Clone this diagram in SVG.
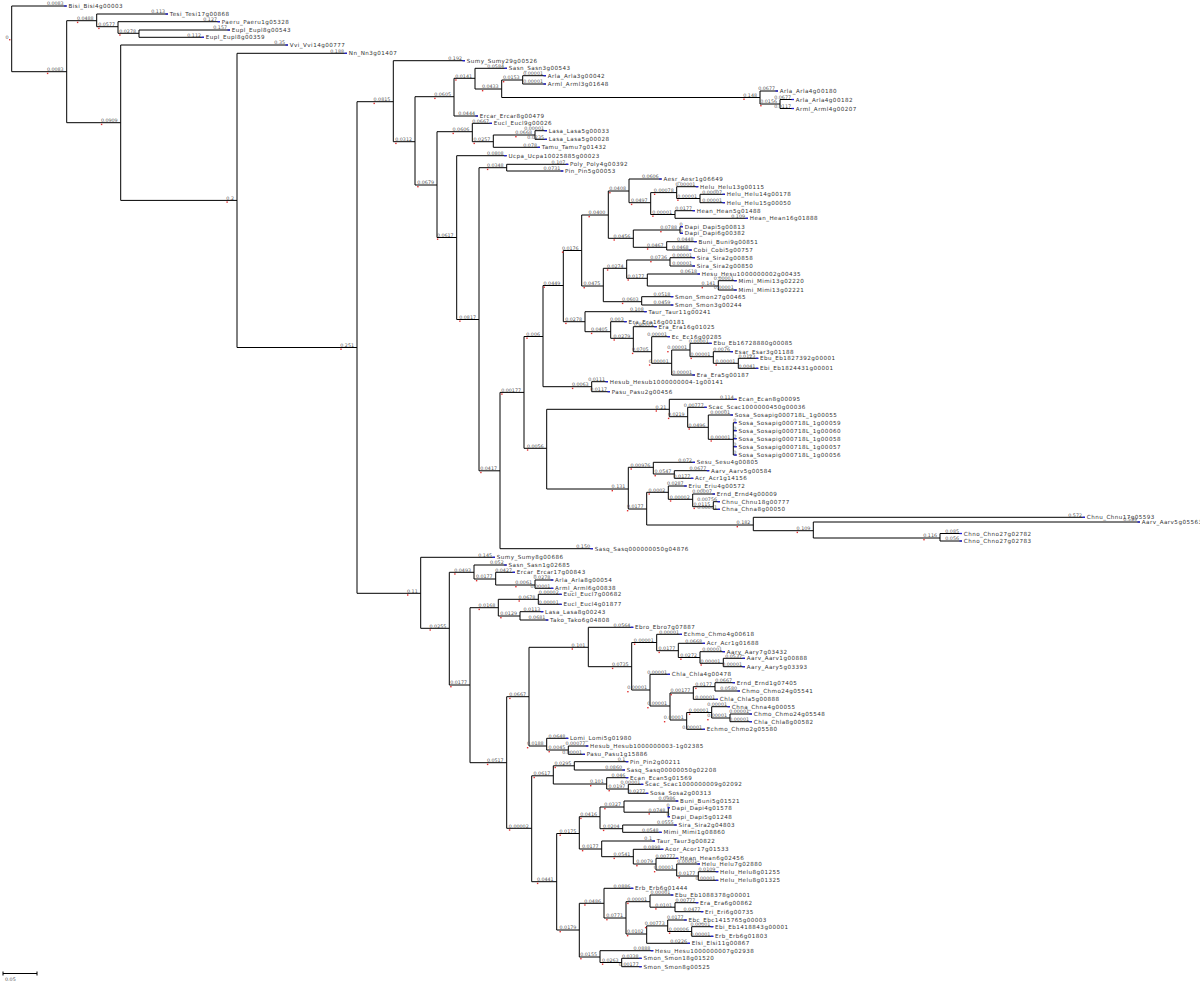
<svg xmlns="http://www.w3.org/2000/svg" width="1200" height="984" viewBox="0 0 1200 984">
<style>
.e{fill:none;stroke:#000;stroke-width:1}
.bl{font-family:'DejaVu Sans',sans-serif;font-size:4.8px;fill:#555;text-anchor:end}
.ln{font-family:'DejaVu Sans',sans-serif;font-size:5.6px;letter-spacing:0.45px;fill:#333}
.bm{stroke:#2222dd;stroke-width:1.3;fill:none}
.rd{fill:#e03030}
</style>
<rect width="1200" height="984" fill="#fff"/>
<g id="connectors" class="e">
<path d="M66.7 6H11.7V71.7H66.7"/>
<path d="M96.7 20.7H66.7V122.7H120.7"/>
<path d="M168 14H96.7V26.7H118"/>
<path d="M220 21.7H118V33.3H139"/>
<path d="M230 30H139V37.3H204"/>
<path d="M288 45H120.7V200.4H237"/>
<path d="M347 53.3H237V347.5H357"/>
<path d="M393.3 101.7H357V593.3H420.7"/>
<path d="M465 60.7H393.3V141.7H415"/>
<path d="M454 96.7H415V185H437"/>
<path d="M475 78.3H454V116H478"/>
<path d="M507 68.3H475V89H501.7"/>
<path d="M522.7 80H501.7V97.5H760"/>
<path d="M546 75.7H522.7V84H546"/>
<path d="M778 91H760V104H780"/>
<path d="M794 99.5H780V108.5H794"/>
<path d="M472.3 131.7H437V237.5H456.7"/>
<path d="M492 123.3H472.3V141.7H493.3"/>
<path d="M535 135H493.3V147.3H540"/>
<path d="M547 130.7H535V139.3H547"/>
<path d="M506.7 155.7H456.7V319.5H479"/>
<path d="M506.7 167.7H479V470.8H500"/>
<path d="M568.3 164.3H506.7V171H563.3"/>
<path d="M524 392.4H500V548.7H593"/>
<path d="M543 336.5H524V448.3H546.7"/>
<path d="M563.3 285.5H543V386.7H591.7"/>
<path d="M581.7 250.5H563.3V321.7H585"/>
<path d="M608.3 215H581.7V286H603.3"/>
<path d="M629 191H608.3V238.3H633.3"/>
<path d="M661.7 179H629V202.7H650.7"/>
<path d="M676.7 192.6H650.7V214.5H675"/>
<path d="M698.3 186.7H676.7V198.5H700"/>
<path d="M725 194.3H700V202.7H725"/>
<path d="M695 210.7H675V218.3H748"/>
<path d="M680 230H633.3V247.3H666.7"/>
<path d="M683 226.7H680V233.3H683"/>
<path d="M696.7 241.7H666.7V250H691.7"/>
<path d="M626.7 268.3H603.3V301.7H641.7"/>
<path d="M670 260H626.7V278.3H647.3"/>
<path d="M695 257.7H670V266H695"/>
<path d="M700 274H647.3V286H718.3"/>
<path d="M736.7 280.7H718.3V290H736.7"/>
<path d="M673.3 296.7H641.7V305H673.3"/>
<path d="M646.7 311.7H585V331.7H610.7"/>
<path d="M626.7 321.7H610.7V338.3H633.3"/>
<path d="M656.7 326.7H633.3V351.7H651.7"/>
<path d="M670 336.7H651.7V363.3H671.7"/>
<path d="M690 350H671.7V375H695"/>
<path d="M711.7 343.3H690V356.7H713.3"/>
<path d="M733 351.7H713.3V363.3H738.3"/>
<path d="M758.3 358.3H738.3V368.3H758.3"/>
<path d="M608 381.7H591.7V391.7H610"/>
<path d="M669.3 409.3H546.7V489H628.3"/>
<path d="M736.7 399.3H669.3V416.7H687.7"/>
<path d="M706.7 407.3H687.7V427.3H708.3"/>
<path d="M733 415H708.3V439.3H733.3"/>
<path d="M733.3 422.7V455M733.3 422.7H736.7M733.3 430.7H736.7M733.3 438.7H736.7M733.3 446.7H736.7M733.3 455H736.7"/>
<path d="M653.3 467.3H628.3V509H646.7"/>
<path d="M695 462.3H653.3V474H674.3"/>
<path d="M709.3 470.7H674.3V478.3H693.3"/>
<path d="M668.3 492.3H646.7V525H753.3"/>
<path d="M686.7 486H668.3V499.3H692.7"/>
<path d="M715 494H692.7V506.7H713.3"/>
<path d="M720 501.7H713.3V509.3H720"/>
<path d="M1085 517.3H753.3V530.7H813.3"/>
<path d="M1140 522H813.3V538H940"/>
<path d="M962 533.5H940V541H962"/>
<path d="M495 557.3H420.7V628.3H449.3"/>
<path d="M474 572.3H449.3V685H470"/>
<path d="M506.7 565H474V579H495.7"/>
<path d="M515 572.3H495.7V585H535"/>
<path d="M553.3 580H535V588.3H553.3"/>
<path d="M498.3 607.7H470V762.7H506.7"/>
<path d="M538.3 599.3H498.3V616H520"/>
<path d="M561.7 594.3H538.3V604.3H561.7"/>
<path d="M543.3 611.7H520V620H548.3"/>
<path d="M529 696.7H506.7V828.3H531.7"/>
<path d="M588.3 647.3H529V746H546.7"/>
<path d="M633.3 627.3H588.3V666.7H631.7"/>
<path d="M656.7 642.5H631.7V690H650"/>
<path d="M682 634.3H656.7V650.7H678.3"/>
<path d="M705 643.3H678.3V657.5H700"/>
<path d="M725 651.7H700V663.3H723.3"/>
<path d="M745 658.3H723.3V666.7H745"/>
<path d="M670 674.3H650V706H670"/>
<path d="M693.3 693H670V720H686.7"/>
<path d="M715 686.7H693.3V699.3H718"/>
<path d="M735 682.7H715V691H740"/>
<path d="M711.7 712.5H686.7V729.3H705"/>
<path d="M730 706.7H711.7V718H730"/>
<path d="M752 714H730V721.7H752"/>
<path d="M568.3 738.3H546.7V750H568.3"/>
<path d="M588.3 746H568.3V754.3H585"/>
<path d="M553.3 775.8H531.7V881.7H556.7"/>
<path d="M574.3 765.8H553.3V784H606.7"/>
<path d="M628.3 761.7H574.3V770H625"/>
<path d="M628.3 777.7H606.7V789H628.3"/>
<path d="M643.3 784.3H628.3V793.3H648.3"/>
<path d="M579.3 833.5H556.7V930H579.3"/>
<path d="M600 816.7H579.3V849H601.7"/>
<path d="M624 807H600V828.7H622.7"/>
<path d="M678.3 801H624V812.2H668.3"/>
<path d="M670 807.7H668.3V816.7H670"/>
<path d="M676.7 825H622.7V832.3H661.7"/>
<path d="M655 841H601.7V856.7H633.3"/>
<path d="M663.3 849.3H633.3V864H656"/>
<path d="M678.3 858.3H656V870H676.7"/>
<path d="M700 864H676.7V876H698.3"/>
<path d="M718.3 871.7H698.3V880.3H718.3"/>
<path d="M604 903.3H579.3V957H600"/>
<path d="M633.3 888.3H604V918H626"/>
<path d="M650 901.7H626V934H646.7"/>
<path d="M673.3 895H650V907.2H675"/>
<path d="M698.3 902.7H675V911.7H703.3"/>
<path d="M667.7 925.9H646.7V943.3H690"/>
<path d="M686.7 920H667.7V931.5H691.7"/>
<path d="M713.3 926.7H691.7V936.3H713.3"/>
<path d="M653.3 950.7H600V962.5H621.7"/>
<path d="M641.7 958.3H621.7V966.7H641.7"/>
</g>
<g id="internal-nodes">
<g id="root"><text class="bl" x="8.5" y="39">0</text><rect class="rd" x="9" y="39" width="1.4" height="1.4"/></g>
<g id="n1"><text class="bl" x="63.7" y="71">0.0083</text><rect class="rd" x="46.9" y="72.7" width="1.4" height="1.4"/></g>
<g id="n2"><text class="bl" x="93.7" y="20">0.0488</text><rect class="rd" x="76.9" y="21.7" width="1.4" height="1.4"/></g>
<g id="n3"><text class="bl" x="115" y="26">0.0577</text><rect class="rd" x="98.2" y="27.7" width="1.4" height="1.4"/></g>
<g id="n4"><text class="bl" x="136" y="32.6">0.0278</text><rect class="rd" x="119.2" y="34.3" width="1.4" height="1.4"/></g>
<g id="n5"><text class="bl" x="117.7" y="122">0.0909</text><rect class="rd" x="100.9" y="123.7" width="1.4" height="1.4"/></g>
<g id="n6"><text class="bl" x="234" y="199.7">0.2</text><rect class="rd" x="226.4" y="201.4" width="1.4" height="1.4"/></g>
<g id="n7"><text class="bl" x="354" y="346.8">0.251</text><rect class="rd" x="340.3" y="348.5" width="1.4" height="1.4"/></g>
<g id="n8"><text class="bl" x="390.3" y="101">0.0815</text><rect class="rd" x="373.5" y="102.7" width="1.4" height="1.4"/></g>
<g id="n9"><text class="bl" x="417.7" y="592.6">0.11</text><rect class="rd" x="407" y="594.3" width="1.4" height="1.4"/></g>
<g id="n10"><text class="bl" x="412" y="141">0.0312</text><rect class="rd" x="395.2" y="142.7" width="1.4" height="1.4"/></g>
<g id="n11"><text class="bl" x="451" y="96">0.0605</text><rect class="rd" x="434.2" y="97.7" width="1.4" height="1.4"/></g>
<g id="n12"><text class="bl" x="434" y="184.3">0.0679</text><rect class="rd" x="417.2" y="186" width="1.4" height="1.4"/></g>
<g id="n13"><text class="bl" x="472" y="77.6">0.0141</text><rect class="rd" x="455.2" y="79.3" width="1.4" height="1.4"/></g>
<g id="n14"><text class="bl" x="498.7" y="88.3">0.0433</text><rect class="rd" x="481.9" y="90" width="1.4" height="1.4"/></g>
<g id="n15"><text class="bl" x="519.7" y="79.3">0.0153</text><rect class="rd" x="502.9" y="81" width="1.4" height="1.4"/></g>
<g id="n16"><text class="bl" x="757" y="96.8">0.148</text><rect class="rd" x="743.3" y="98.5" width="1.4" height="1.4"/></g>
<g id="n17"><text class="bl" x="777" y="103.3">0.0156</text><rect class="rd" x="760.2" y="105" width="1.4" height="1.4"/></g>
<g id="n18"><text class="bl" x="469.3" y="131">0.0606</text><rect class="rd" x="452.5" y="132.7" width="1.4" height="1.4"/></g>
<g id="n19"><text class="bl" x="453.7" y="236.8">0.0617</text><rect class="rd" x="436.9" y="238.5" width="1.4" height="1.4"/></g>
<g id="n20"><text class="bl" x="490.3" y="141">0.0257</text><rect class="rd" x="473.5" y="142.7" width="1.4" height="1.4"/></g>
<g id="n21"><text class="bl" x="532" y="134.3">0.0668</text><rect class="rd" x="515.2" y="136" width="1.4" height="1.4"/></g>
<g id="n22"><text class="bl" x="476" y="318.8">0.0817</text><rect class="rd" x="459.2" y="320.5" width="1.4" height="1.4"/></g>
<g id="n23"><text class="bl" x="503.7" y="167">0.0348</text><rect class="rd" x="486.9" y="168.7" width="1.4" height="1.4"/></g>
<g id="n24"><text class="bl" x="497" y="470.1">0.0417</text><rect class="rd" x="480.2" y="471.8" width="1.4" height="1.4"/></g>
<g id="n25"><text class="bl" x="521" y="391.7">0.00177</text><rect class="rd" x="501.2" y="393.4" width="1.4" height="1.4"/></g>
<g id="n26"><text class="bl" x="540" y="335.8">0.006</text><rect class="rd" x="526.3" y="337.5" width="1.4" height="1.4"/></g>
<g id="n27"><text class="bl" x="543.7" y="447.6">0.0056</text><rect class="rd" x="526.9" y="449.3" width="1.4" height="1.4"/></g>
<g id="n28"><text class="bl" x="560.3" y="284.8">0.0449</text><rect class="rd" x="543.5" y="286.5" width="1.4" height="1.4"/></g>
<g id="n29"><text class="bl" x="588.7" y="386">0.0063</text><rect class="rd" x="571.9" y="387.7" width="1.4" height="1.4"/></g>
<g id="n30"><text class="bl" x="578.7" y="249.8">0.0176</text><rect class="rd" x="561.9" y="251.5" width="1.4" height="1.4"/></g>
<g id="n31"><text class="bl" x="582" y="321">0.0278</text><rect class="rd" x="565.2" y="322.7" width="1.4" height="1.4"/></g>
<g id="n32"><text class="bl" x="605.3" y="214.3">0.0400</text><rect class="rd" x="588.5" y="216" width="1.4" height="1.4"/></g>
<g id="n33"><text class="bl" x="600.3" y="285.3">0.0475</text><rect class="rd" x="583.5" y="287" width="1.4" height="1.4"/></g>
<g id="n34"><text class="bl" x="626" y="190.3">0.0408</text><rect class="rd" x="609.2" y="192" width="1.4" height="1.4"/></g>
<g id="n35"><text class="bl" x="630.3" y="237.6">0.0456</text><rect class="rd" x="613.5" y="239.3" width="1.4" height="1.4"/></g>
<g id="n36"><text class="bl" x="647.7" y="202">0.0497</text><rect class="rd" x="630.9" y="203.7" width="1.4" height="1.4"/></g>
<g id="n37"><text class="bl" x="673.7" y="191.9">0.00078</text><rect class="rd" x="653.9" y="193.6" width="1.4" height="1.4"/></g>
<g id="n38"><text class="bl" x="697" y="197.8">0.00001</text><rect class="rd" x="677.2" y="199.5" width="1.4" height="1.4"/></g>
<g id="n39"><text class="bl" x="672" y="213.8">0.00001</text><rect class="rd" x="652.2" y="215.5" width="1.4" height="1.4"/></g>
<g id="n40"><text class="bl" x="677" y="229.3">0.0788</text><rect class="rd" x="660.2" y="231" width="1.4" height="1.4"/></g>
<g id="n41"><text class="bl" x="663.7" y="246.6">0.0467</text><rect class="rd" x="646.9" y="248.3" width="1.4" height="1.4"/></g>
<g id="n42"><text class="bl" x="623.7" y="267.6">0.0274</text><rect class="rd" x="606.9" y="269.3" width="1.4" height="1.4"/></g>
<g id="n43"><text class="bl" x="638.7" y="301">0.0603</text><rect class="rd" x="621.9" y="302.7" width="1.4" height="1.4"/></g>
<g id="n44"><text class="bl" x="667" y="259.3">0.0736</text><rect class="rd" x="650.2" y="261" width="1.4" height="1.4"/></g>
<g id="n45"><text class="bl" x="644.3" y="277.6">0.0177</text><rect class="rd" x="627.5" y="279.3" width="1.4" height="1.4"/></g>
<g id="n46"><text class="bl" x="715.3" y="285.3">0.141</text><rect class="rd" x="701.6" y="287" width="1.4" height="1.4"/></g>
<g id="n47"><text class="bl" x="607.7" y="331">0.0405</text><rect class="rd" x="590.9" y="332.7" width="1.4" height="1.4"/></g>
<g id="n48"><text class="bl" x="630.3" y="337.6">0.0279</text><rect class="rd" x="613.5" y="339.3" width="1.4" height="1.4"/></g>
<g id="n49"><text class="bl" x="648.7" y="351">0.0705</text><rect class="rd" x="631.9" y="352.7" width="1.4" height="1.4"/></g>
<g id="n50"><text class="bl" x="668.7" y="362.6">0.00001</text><rect class="rd" x="648.9" y="364.3" width="1.4" height="1.4"/></g>
<g id="n51"><text class="bl" x="687" y="349.3">0.00001</text><rect class="rd" x="667.2" y="351" width="1.4" height="1.4"/></g>
<g id="n52"><text class="bl" x="710.3" y="356">0.00001</text><rect class="rd" x="690.5" y="357.7" width="1.4" height="1.4"/></g>
<g id="n53"><text class="bl" x="735.3" y="362.6">0.00001</text><rect class="rd" x="715.5" y="364.3" width="1.4" height="1.4"/></g>
<g id="n54"><text class="bl" x="666.3" y="408.6">0.21</text><rect class="rd" x="655.6" y="410.3" width="1.4" height="1.4"/></g>
<g id="n55"><text class="bl" x="625.3" y="488.3">0.131</text><rect class="rd" x="611.6" y="490" width="1.4" height="1.4"/></g>
<g id="n56"><text class="bl" x="684.7" y="416">0.0219</text><rect class="rd" x="667.9" y="417.7" width="1.4" height="1.4"/></g>
<g id="n57"><text class="bl" x="705.3" y="426.6">0.0496</text><rect class="rd" x="688.5" y="428.3" width="1.4" height="1.4"/></g>
<g id="n58"><text class="bl" x="730.3" y="438.6">0.00001</text><rect class="rd" x="710.5" y="440.3" width="1.4" height="1.4"/></g>
<g id="n59"><text class="bl" x="650.3" y="466.6">0.00976</text><rect class="rd" x="630.5" y="468.3" width="1.4" height="1.4"/></g>
<g id="n60"><text class="bl" x="643.7" y="508.3">0.0177</text><rect class="rd" x="626.9" y="510" width="1.4" height="1.4"/></g>
<g id="n61"><text class="bl" x="671.3" y="473.3">0.0547</text><rect class="rd" x="654.5" y="475" width="1.4" height="1.4"/></g>
<g id="n62"><text class="bl" x="665.3" y="491.6">0.0002</text><rect class="rd" x="648.5" y="493.3" width="1.4" height="1.4"/></g>
<g id="n63"><text class="bl" x="750.3" y="524.3">0.182</text><rect class="rd" x="736.6" y="526" width="1.4" height="1.4"/></g>
<g id="n64"><text class="bl" x="689.7" y="498.6">0.00002</text><rect class="rd" x="669.9" y="500.3" width="1.4" height="1.4"/></g>
<g id="n65"><text class="bl" x="710.3" y="506">0.0115</text><rect class="rd" x="693.5" y="507.7" width="1.4" height="1.4"/></g>
<g id="n66"><text class="bl" x="810.3" y="530">0.109</text><rect class="rd" x="796.6" y="531.7" width="1.4" height="1.4"/></g>
<g id="n67"><text class="bl" x="937" y="537.3">0.116</text><rect class="rd" x="923.3" y="539" width="1.4" height="1.4"/></g>
<g id="n68"><text class="bl" x="446.3" y="627.6">0.0255</text><rect class="rd" x="429.5" y="629.3" width="1.4" height="1.4"/></g>
<g id="n69"><text class="bl" x="471" y="571.6">0.0493</text><rect class="rd" x="454.2" y="573.3" width="1.4" height="1.4"/></g>
<g id="n70"><text class="bl" x="467" y="684.3">0.0177</text><rect class="rd" x="450.2" y="686" width="1.4" height="1.4"/></g>
<g id="n71"><text class="bl" x="492.7" y="578.3">0.0177</text><rect class="rd" x="475.9" y="580" width="1.4" height="1.4"/></g>
<g id="n72"><text class="bl" x="532" y="584.3">0.0061</text><rect class="rd" x="515.2" y="586" width="1.4" height="1.4"/></g>
<g id="n73"><text class="bl" x="495.3" y="607">0.0168</text><rect class="rd" x="478.5" y="608.7" width="1.4" height="1.4"/></g>
<g id="n74"><text class="bl" x="503.7" y="762">0.0517</text><rect class="rd" x="486.9" y="763.7" width="1.4" height="1.4"/></g>
<g id="n75"><text class="bl" x="535.3" y="598.6">0.0678</text><rect class="rd" x="518.5" y="600.3" width="1.4" height="1.4"/></g>
<g id="n76"><text class="bl" x="517" y="615.3">0.0129</text><rect class="rd" x="500.2" y="617" width="1.4" height="1.4"/></g>
<g id="n77"><text class="bl" x="526" y="696">0.0667</text><rect class="rd" x="509.2" y="697.7" width="1.4" height="1.4"/></g>
<g id="n78"><text class="bl" x="528.7" y="827.6">0.00002</text><rect class="rd" x="508.9" y="829.3" width="1.4" height="1.4"/></g>
<g id="n79"><text class="bl" x="585.3" y="646.6">0.101</text><rect class="rd" x="571.6" y="648.3" width="1.4" height="1.4"/></g>
<g id="n80"><text class="bl" x="543.7" y="745.3">0.0188</text><rect class="rd" x="526.9" y="747" width="1.4" height="1.4"/></g>
<g id="n81"><text class="bl" x="628.7" y="666">0.0735</text><rect class="rd" x="611.9" y="667.7" width="1.4" height="1.4"/></g>
<g id="n82"><text class="bl" x="653.7" y="641.8">0.00001</text><rect class="rd" x="633.9" y="643.5" width="1.4" height="1.4"/></g>
<g id="n83"><text class="bl" x="647" y="689.3">0.00001</text><rect class="rd" x="627.2" y="691" width="1.4" height="1.4"/></g>
<g id="n84"><text class="bl" x="675.3" y="650">0.0177</text><rect class="rd" x="658.5" y="651.7" width="1.4" height="1.4"/></g>
<g id="n85"><text class="bl" x="697" y="656.8">0.0272</text><rect class="rd" x="680.2" y="658.5" width="1.4" height="1.4"/></g>
<g id="n86"><text class="bl" x="720.3" y="662.6">0.00001</text><rect class="rd" x="700.5" y="664.3" width="1.4" height="1.4"/></g>
<g id="n87"><text class="bl" x="667" y="705.3">0.00001</text><rect class="rd" x="647.2" y="707" width="1.4" height="1.4"/></g>
<g id="n88"><text class="bl" x="690.3" y="692.3">0.00177</text><rect class="rd" x="670.5" y="694" width="1.4" height="1.4"/></g>
<g id="n89"><text class="bl" x="683.7" y="719.3">0.00001</text><rect class="rd" x="663.9" y="721" width="1.4" height="1.4"/></g>
<g id="n90"><text class="bl" x="712" y="686">0.0177</text><rect class="rd" x="695.2" y="687.7" width="1.4" height="1.4"/></g>
<g id="n91"><text class="bl" x="708.7" y="711.8">0.00001</text><rect class="rd" x="688.9" y="713.5" width="1.4" height="1.4"/></g>
<g id="n92"><text class="bl" x="727" y="717.3">0.00001</text><rect class="rd" x="707.2" y="719" width="1.4" height="1.4"/></g>
<g id="n93"><text class="bl" x="565.3" y="749.3">0.0045</text><rect class="rd" x="548.5" y="751" width="1.4" height="1.4"/></g>
<g id="n94"><text class="bl" x="550.3" y="775.1">0.0617</text><rect class="rd" x="533.5" y="776.8" width="1.4" height="1.4"/></g>
<g id="n95"><text class="bl" x="553.7" y="881">0.0441</text><rect class="rd" x="536.9" y="882.7" width="1.4" height="1.4"/></g>
<g id="n96"><text class="bl" x="571.3" y="765.1">0.0295</text><rect class="rd" x="554.5" y="766.8" width="1.4" height="1.4"/></g>
<g id="n97"><text class="bl" x="603.7" y="783.3">0.101</text><rect class="rd" x="590" y="785" width="1.4" height="1.4"/></g>
<g id="n98"><text class="bl" x="625.3" y="788.3">0.0197</text><rect class="rd" x="608.5" y="790" width="1.4" height="1.4"/></g>
<g id="n99"><text class="bl" x="576.3" y="832.8">0.0175</text><rect class="rd" x="559.5" y="834.5" width="1.4" height="1.4"/></g>
<g id="n100"><text class="bl" x="576.3" y="929.3">0.0179</text><rect class="rd" x="559.5" y="931" width="1.4" height="1.4"/></g>
<g id="n101"><text class="bl" x="597" y="816">0.0416</text><rect class="rd" x="580.2" y="817.7" width="1.4" height="1.4"/></g>
<g id="n102"><text class="bl" x="598.7" y="848.3">0.0177</text><rect class="rd" x="581.9" y="850" width="1.4" height="1.4"/></g>
<g id="n103"><text class="bl" x="621" y="806.3">0.0327</text><rect class="rd" x="604.2" y="808" width="1.4" height="1.4"/></g>
<g id="n104"><text class="bl" x="619.7" y="828">0.0204</text><rect class="rd" x="602.9" y="829.7" width="1.4" height="1.4"/></g>
<g id="n105"><text class="bl" x="665.3" y="811.5">0.0748</text><rect class="rd" x="648.5" y="813.2" width="1.4" height="1.4"/></g>
<g id="n106"><text class="bl" x="630.3" y="856">0.0541</text><rect class="rd" x="613.5" y="857.7" width="1.4" height="1.4"/></g>
<g id="n107"><text class="bl" x="653" y="863.3">0.0079</text><rect class="rd" x="636.2" y="865" width="1.4" height="1.4"/></g>
<g id="n108"><text class="bl" x="673.7" y="869.3">0.00001</text><rect class="rd" x="653.9" y="871" width="1.4" height="1.4"/></g>
<g id="n109"><text class="bl" x="695.3" y="875.3">0.0177</text><rect class="rd" x="678.5" y="877" width="1.4" height="1.4"/></g>
<g id="n110"><text class="bl" x="601" y="902.6">0.0486</text><rect class="rd" x="584.2" y="904.3" width="1.4" height="1.4"/></g>
<g id="n111"><text class="bl" x="597" y="956.3">0.0155</text><rect class="rd" x="580.2" y="958" width="1.4" height="1.4"/></g>
<g id="n112"><text class="bl" x="623" y="917.3">0.0771</text><rect class="rd" x="606.2" y="919" width="1.4" height="1.4"/></g>
<g id="n113"><text class="bl" x="647" y="901">0.00001</text><rect class="rd" x="627.2" y="902.7" width="1.4" height="1.4"/></g>
<g id="n114"><text class="bl" x="672" y="906.5">0.0101</text><rect class="rd" x="655.2" y="908.2" width="1.4" height="1.4"/></g>
<g id="n115"><text class="bl" x="643.7" y="933.3">0.0102</text><rect class="rd" x="626.9" y="935" width="1.4" height="1.4"/></g>
<g id="n116"><text class="bl" x="664.7" y="925.2">0.00773</text><rect class="rd" x="644.9" y="926.9" width="1.4" height="1.4"/></g>
<g id="n117"><text class="bl" x="688.7" y="930.8">0.00006</text><rect class="rd" x="668.9" y="932.5" width="1.4" height="1.4"/></g>
<g id="n118"><text class="bl" x="618.7" y="961.8">0.0263</text><rect class="rd" x="601.9" y="963.5" width="1.4" height="1.4"/></g>
</g>
<g id="leaves">
<g id="L1"><text class="bl" x="63.7" y="5.3">0.0083</text><path class="bm" d="M64.2 6h2.5"/><text class="ln" x="68.5" y="8">Bisi_Bisi4g00003</text></g>
<g id="L2"><text class="bl" x="165" y="13.3">0.113</text><path class="bm" d="M165.5 14h2.5"/><text class="ln" x="169.8" y="16">Tesi_Tesi17g00868</text></g>
<g id="L3"><text class="bl" x="217" y="21">0.127</text><path class="bm" d="M217.5 21.7h2.5"/><text class="ln" x="221.8" y="23.7">Paeru_Paeru1g05328</text></g>
<g id="L4"><text class="bl" x="227" y="29.3">0.157</text><path class="bm" d="M227.5 30h2.5"/><text class="ln" x="231.8" y="32">Eupl_Eupl8g00543</text></g>
<g id="L5"><text class="bl" x="201" y="36.6">0.112</text><path class="bm" d="M201.5 37.3h2.5"/><text class="ln" x="205.8" y="39.3">Eupl_Eupl8g00359</text></g>
<g id="L6"><text class="bl" x="285" y="44.3">0.35</text><path class="bm" d="M285.5 45h2.5"/><text class="ln" x="289.8" y="47">Vvi_Vvi14g00777</text></g>
<g id="L7"><text class="bl" x="344" y="52.6">0.188</text><path class="bm" d="M344.5 53.3h2.5"/><text class="ln" x="348.8" y="55.3">Nn_Nn3g01407</text></g>
<g id="L8"><text class="bl" x="462" y="60">0.192</text><path class="bm" d="M462.5 60.7h2.5"/><text class="ln" x="466.8" y="62.7">Sumy_Sumy29g00526</text></g>
<g id="L9"><text class="bl" x="504" y="67.6">0.0584</text><path class="bm" d="M504.5 68.3h2.5"/><text class="ln" x="508.8" y="70.3">Sasn_Sasn3g00543</text></g>
<g id="L10"><text class="bl" x="543" y="75">0.00001</text><path class="bm" d="M543.5 75.7h2.5"/><text class="ln" x="547.8" y="77.7">Arla_Arla3g00042</text></g>
<g id="L11"><text class="bl" x="543" y="83.3">0.00001</text><path class="bm" d="M543.5 84h2.5"/><text class="ln" x="547.8" y="86">Arml_Arml3g01648</text></g>
<g id="L12"><text class="bl" x="775" y="90.3">0.0677</text><path class="bm" d="M775.5 91h2.5"/><text class="ln" x="779.8" y="93">Arla_Arla4g00180</text></g>
<g id="L13"><text class="bl" x="791" y="98.8">0.0677</text><path class="bm" d="M791.5 99.5h2.5"/><text class="ln" x="795.8" y="101.5">Arla_Arla4g00182</text></g>
<g id="L14"><text class="bl" x="791" y="107.8">0.0117</text><path class="bm" d="M791.5 108.5h2.5"/><text class="ln" x="795.8" y="110.5">Arml_Arml4g00207</text></g>
<g id="L15"><text class="bl" x="475" y="115.3">0.0444</text><path class="bm" d="M475.5 116h2.5"/><text class="ln" x="479.8" y="118">Ercar_Ercar8g00479</text></g>
<g id="L16"><text class="bl" x="489" y="122.6">0.0667</text><path class="bm" d="M489.5 123.3h2.5"/><text class="ln" x="493.8" y="125.3">Eucl_Eucl9g00026</text></g>
<g id="L17"><text class="bl" x="544" y="130">0.00001</text><path class="bm" d="M544.5 130.7h2.5"/><text class="ln" x="548.8" y="132.7">Lasa_Lasa5g00033</text></g>
<g id="L18"><text class="bl" x="544" y="138.6">0.0235</text><path class="bm" d="M544.5 139.3h2.5"/><text class="ln" x="548.8" y="141.3">Lasa_Lasa5g00028</text></g>
<g id="L19"><text class="bl" x="537" y="146.6">0.078</text><path class="bm" d="M537.5 147.3h2.5"/><text class="ln" x="541.8" y="149.3">Tamu_Tamu7g01432</text></g>
<g id="L20"><text class="bl" x="503.7" y="155">0.0808</text><path class="bm" d="M504.2 155.7h2.5"/><text class="ln" x="508.5" y="157.7">Ucpa_Ucpa10025885g00023</text></g>
<g id="L21"><text class="bl" x="565.3" y="163.6">0.107</text><path class="bm" d="M565.8 164.3h2.5"/><text class="ln" x="570.1" y="166.3">Poly_Poly4g00392</text></g>
<g id="L22"><text class="bl" x="560.3" y="170.3">0.0731</text><path class="bm" d="M560.8 171h2.5"/><text class="ln" x="565.1" y="173">Pin_Pin5g00053</text></g>
<g id="L23"><text class="bl" x="658.7" y="178.3">0.0606</text><path class="bm" d="M659.2 179h2.5"/><text class="ln" x="663.5" y="181">Aesr_Aesr1g06649</text></g>
<g id="L24"><text class="bl" x="695.3" y="186">0.00001</text><path class="bm" d="M695.8 186.7h2.5"/><text class="ln" x="700.1" y="188.7">Helu_Helu13g00115</text></g>
<g id="L25"><text class="bl" x="722" y="193.6">0.00007</text><path class="bm" d="M722.5 194.3h2.5"/><text class="ln" x="726.8" y="196.3">Helu_Helu14g00178</text></g>
<g id="L26"><text class="bl" x="722" y="202">0.00001</text><path class="bm" d="M722.5 202.7h2.5"/><text class="ln" x="726.8" y="204.7">Helu_Helu15g00050</text></g>
<g id="L27"><text class="bl" x="692" y="210">0.0177</text><path class="bm" d="M692.5 210.7h2.5"/><text class="ln" x="696.8" y="212.7">Hean_Hean5g01488</text></g>
<g id="L28"><text class="bl" x="745" y="217.6">0.109</text><path class="bm" d="M745.5 218.3h2.5"/><text class="ln" x="749.8" y="220.3">Hean_Hean16g01888</text></g>
<g id="L29"><text class="bl" x="682.5" y="226">0</text><path class="bm" d="M680.5 226.7h2.5"/><text class="ln" x="684.8" y="228.7">Dapi_Dapi5g00813</text></g>
<g id="L30"><text class="bl" x="682.5" y="232.6">0</text><path class="bm" d="M680.5 233.3h2.5"/><text class="ln" x="684.8" y="235.3">Dapi_Dapi6g00382</text></g>
<g id="L31"><text class="bl" x="693.7" y="241">0.0448</text><path class="bm" d="M694.2 241.7h2.5"/><text class="ln" x="698.5" y="243.7">Buni_Buni9g00851</text></g>
<g id="L32"><text class="bl" x="688.7" y="249.3">0.0468</text><path class="bm" d="M689.2 250h2.5"/><text class="ln" x="693.5" y="252">Cobi_Cobi5g00757</text></g>
<g id="L33"><text class="bl" x="692" y="257">0.00001</text><path class="bm" d="M692.5 257.7h2.5"/><text class="ln" x="696.8" y="259.7">Sira_Sira2g00858</text></g>
<g id="L34"><text class="bl" x="692" y="265.3">0.00001</text><path class="bm" d="M692.5 266h2.5"/><text class="ln" x="696.8" y="268">Sira_Sira2g00850</text></g>
<g id="L35"><text class="bl" x="697" y="273.3">0.0618</text><path class="bm" d="M697.5 274h2.5"/><text class="ln" x="701.8" y="276">Hesu_Hesu1000000002g00435</text></g>
<g id="L36"><text class="bl" x="733.7" y="280">0.00001</text><path class="bm" d="M734.2 280.7h2.5"/><text class="ln" x="738.5" y="282.7">Mimi_Mimi13g02220</text></g>
<g id="L37"><text class="bl" x="733.7" y="289.3">0.00001</text><path class="bm" d="M734.2 290h2.5"/><text class="ln" x="738.5" y="292">Mimi_Mimi13g02221</text></g>
<g id="L38"><text class="bl" x="670.3" y="296">0.0518</text><path class="bm" d="M670.8 296.7h2.5"/><text class="ln" x="675.1" y="298.7">Smon_Smon27g00465</text></g>
<g id="L39"><text class="bl" x="670.3" y="304.3">0.0459</text><path class="bm" d="M670.8 305h2.5"/><text class="ln" x="675.1" y="307">Smon_Smon3g00244</text></g>
<g id="L40"><text class="bl" x="643.7" y="311">0.108</text><path class="bm" d="M644.2 311.7h2.5"/><text class="ln" x="648.5" y="313.7">Taur_Taur11g00241</text></g>
<g id="L41"><text class="bl" x="623.7" y="321">0.003</text><path class="bm" d="M624.2 321.7h2.5"/><text class="ln" x="628.5" y="323.7">Era_Era16g00181</text></g>
<g id="L42"><text class="bl" x="653.7" y="326">0.00001</text><path class="bm" d="M654.2 326.7h2.5"/><text class="ln" x="658.5" y="328.7">Era_Era16g01025</text></g>
<g id="L43"><text class="bl" x="667" y="336">0.00001</text><path class="bm" d="M667.5 336.7h2.5"/><text class="ln" x="671.8" y="338.7">Ec_Ec16g00285</text></g>
<g id="L44"><text class="bl" x="708.7" y="342.6">0.00001</text><path class="bm" d="M709.2 343.3h2.5"/><text class="ln" x="713.5" y="345.3">Ebu_Eb16728880g00085</text></g>
<g id="L45"><text class="bl" x="730" y="351">0.0076</text><path class="bm" d="M730.5 351.7h2.5"/><text class="ln" x="734.8" y="353.7">Esar_Esar3g01188</text></g>
<g id="L46"><text class="bl" x="755.3" y="357.6">0.0123</text><path class="bm" d="M755.8 358.3h2.5"/><text class="ln" x="760.1" y="360.3">Ebu_Eb1827392g00001</text></g>
<g id="L47"><text class="bl" x="755.3" y="367.6">0.0041</text><path class="bm" d="M755.8 368.3h2.5"/><text class="ln" x="760.1" y="370.3">Ebi_Eb1824431g00001</text></g>
<g id="L48"><text class="bl" x="692" y="374.3">0.00001</text><path class="bm" d="M692.5 375h2.5"/><text class="ln" x="696.8" y="377">Era_Era5g00187</text></g>
<g id="L49"><text class="bl" x="605" y="381">0.0111</text><path class="bm" d="M605.5 381.7h2.5"/><text class="ln" x="609.8" y="383.7">Hesub_Hesub1000000004-1g00141</text></g>
<g id="L50"><text class="bl" x="607" y="391">0.0117</text><path class="bm" d="M607.5 391.7h2.5"/><text class="ln" x="611.8" y="393.7">Pasu_Pasu2g00456</text></g>
<g id="L51"><text class="bl" x="733.7" y="398.6">0.114</text><path class="bm" d="M734.2 399.3h2.5"/><text class="ln" x="738.5" y="401.3">Ecan_Ecan8g00095</text></g>
<g id="L52"><text class="bl" x="703.7" y="406.6">0.00777</text><path class="bm" d="M704.2 407.3h2.5"/><text class="ln" x="708.5" y="409.3">Scac_Scac1000000450g00036</text></g>
<g id="L53"><text class="bl" x="730" y="414.3">0.00001</text><path class="bm" d="M730.5 415h2.5"/><text class="ln" x="734.8" y="417">Sosa_Sosapig000718L_1g00055</text></g>
<g id="L54"><text class="bl" x="736.2" y="422">0</text><path class="bm" d="M734.2 422.7h2.5"/><text class="ln" x="738.5" y="424.7">Sosa_Sosapig000718L_1g00059</text></g>
<g id="L55"><text class="bl" x="736.2" y="430">0</text><path class="bm" d="M734.2 430.7h2.5"/><text class="ln" x="738.5" y="432.7">Sosa_Sosapig000718L_1g00060</text></g>
<g id="L56"><text class="bl" x="736.2" y="438">0</text><path class="bm" d="M734.2 438.7h2.5"/><text class="ln" x="738.5" y="440.7">Sosa_Sosapig000718L_1g00058</text></g>
<g id="L57"><text class="bl" x="736.2" y="446">0</text><path class="bm" d="M734.2 446.7h2.5"/><text class="ln" x="738.5" y="448.7">Sosa_Sosapig000718L_1g00057</text></g>
<g id="L58"><text class="bl" x="736.2" y="454.3">0</text><path class="bm" d="M734.2 455h2.5"/><text class="ln" x="738.5" y="457">Sosa_Sosapig000718L_1g00056</text></g>
<g id="L59"><text class="bl" x="692" y="461.6">0.072</text><path class="bm" d="M692.5 462.3h2.5"/><text class="ln" x="696.8" y="464.3">Sesu_Sesu4g00805</text></g>
<g id="L60"><text class="bl" x="706.3" y="470">0.0677</text><path class="bm" d="M706.8 470.7h2.5"/><text class="ln" x="711.1" y="472.7">Aarv_Aarv5g00584</text></g>
<g id="L61"><text class="bl" x="690.3" y="477.6">0.0177</text><path class="bm" d="M690.8 478.3h2.5"/><text class="ln" x="695.1" y="480.3">Acr_Acr1g14156</text></g>
<g id="L62"><text class="bl" x="683.7" y="485.3">0.0287</text><path class="bm" d="M684.2 486h2.5"/><text class="ln" x="688.5" y="488">Eriu_Eriu4g00572</text></g>
<g id="L63"><text class="bl" x="712" y="493.3">0.00007</text><path class="bm" d="M712.5 494h2.5"/><text class="ln" x="716.8" y="496">Ernd_Ernd4g00009</text></g>
<g id="L64"><text class="bl" x="717" y="501">0.00756</text><path class="bm" d="M717.5 501.7h2.5"/><text class="ln" x="721.8" y="503.7">Chnu_Chnu18g00777</text></g>
<g id="L65"><text class="bl" x="717" y="508.6">0.00001</text><path class="bm" d="M717.5 509.3h2.5"/><text class="ln" x="721.8" y="511.3">Chna_Chna8g00050</text></g>
<g id="L66"><text class="bl" x="1082" y="516.6">0.572</text><path class="bm" d="M1082.5 517.3h2.5"/><text class="ln" x="1086.8" y="519.3">Chnu_Chnu17g05593</text></g>
<g id="L67"><text class="bl" x="1137" y="521.3">0.539</text><path class="bm" d="M1137.5 522h2.5"/><text class="ln" x="1141.8" y="524">Aarv_Aarv5g05563</text></g>
<g id="L68"><text class="bl" x="959" y="532.8">0.085</text><path class="bm" d="M959.5 533.5h2.5"/><text class="ln" x="963.8" y="535.5">Chno_Chno27g02782</text></g>
<g id="L69"><text class="bl" x="959" y="540.3">0.056</text><path class="bm" d="M959.5 541h2.5"/><text class="ln" x="963.8" y="543">Chno_Chno27g02783</text></g>
<g id="L70"><text class="bl" x="590" y="548">0.150</text><path class="bm" d="M590.5 548.7h2.5"/><text class="ln" x="594.8" y="550.7">Sasq_Sasq000000050g04876</text></g>
<g id="L71"><text class="bl" x="492" y="556.6">0.145</text><path class="bm" d="M492.5 557.3h2.5"/><text class="ln" x="496.8" y="559.3">Sumy_Sumy8g00686</text></g>
<g id="L72"><text class="bl" x="503.7" y="564.3">0.052</text><path class="bm" d="M504.2 565h2.5"/><text class="ln" x="508.5" y="567">Sasn_Sasn1g02685</text></g>
<g id="L73"><text class="bl" x="512" y="571.6">0.0427</text><path class="bm" d="M512.5 572.3h2.5"/><text class="ln" x="516.8" y="574.3">Ercar_Ercar17g00843</text></g>
<g id="L74"><text class="bl" x="550.3" y="579.3">0.0278</text><path class="bm" d="M550.8 580h2.5"/><text class="ln" x="555.1" y="582">Arla_Arla8g00054</text></g>
<g id="L75"><text class="bl" x="550.3" y="587.6">0.00001</text><path class="bm" d="M550.8 588.3h2.5"/><text class="ln" x="555.1" y="590.3">Arml_Arml6g00838</text></g>
<g id="L76"><text class="bl" x="558.7" y="593.6">0.00002</text><path class="bm" d="M559.2 594.3h2.5"/><text class="ln" x="563.5" y="596.3">Eucl_Eucl7g00682</text></g>
<g id="L77"><text class="bl" x="558.7" y="603.6">0.00001</text><path class="bm" d="M559.2 604.3h2.5"/><text class="ln" x="563.5" y="606.3">Eucl_Eucl4g01877</text></g>
<g id="L78"><text class="bl" x="540.3" y="611">0.0113</text><path class="bm" d="M540.8 611.7h2.5"/><text class="ln" x="545.1" y="613.7">Lasa_Lasa8g00243</text></g>
<g id="L79"><text class="bl" x="545.3" y="619.3">0.0681</text><path class="bm" d="M545.8 620h2.5"/><text class="ln" x="550.1" y="622">Tako_Tako6g04808</text></g>
<g id="L80"><text class="bl" x="630.3" y="626.6">0.0564</text><path class="bm" d="M630.8 627.3h2.5"/><text class="ln" x="635.1" y="629.3">Ebro_Ebro7g07887</text></g>
<g id="L81"><text class="bl" x="679" y="633.6">0.00001</text><path class="bm" d="M679.5 634.3h2.5"/><text class="ln" x="683.8" y="636.3">Echmo_Chmo4g00618</text></g>
<g id="L82"><text class="bl" x="702" y="642.6">0.0668</text><path class="bm" d="M702.5 643.3h2.5"/><text class="ln" x="706.8" y="645.3">Acr_Acr1g01688</text></g>
<g id="L83"><text class="bl" x="722" y="651">0.00001</text><path class="bm" d="M722.5 651.7h2.5"/><text class="ln" x="726.8" y="653.7">Aary_Aary7g03432</text></g>
<g id="L84"><text class="bl" x="742" y="657.6">0.0537</text><path class="bm" d="M742.5 658.3h2.5"/><text class="ln" x="746.8" y="660.3">Aarv_Aarv1g00888</text></g>
<g id="L85"><text class="bl" x="742" y="666">0.00001</text><path class="bm" d="M742.5 666.7h2.5"/><text class="ln" x="746.8" y="668.7">Aary_Aary5g03393</text></g>
<g id="L86"><text class="bl" x="667" y="673.6">0.00001</text><path class="bm" d="M667.5 674.3h2.5"/><text class="ln" x="671.8" y="676.3">Chla_Chla4g00478</text></g>
<g id="L87"><text class="bl" x="732" y="682">0.0667</text><path class="bm" d="M732.5 682.7h2.5"/><text class="ln" x="736.8" y="684.7">Ernd_Ernd1g07405</text></g>
<g id="L88"><text class="bl" x="737" y="690.3">0.0580</text><path class="bm" d="M737.5 691h2.5"/><text class="ln" x="741.8" y="693">Chmo_Chmo24g05541</text></g>
<g id="L89"><text class="bl" x="715" y="698.6">0.00001</text><path class="bm" d="M715.5 699.3h2.5"/><text class="ln" x="719.8" y="701.3">Chla_Chla5g00888</text></g>
<g id="L90"><text class="bl" x="727" y="706">0.00001</text><path class="bm" d="M727.5 706.7h2.5"/><text class="ln" x="731.8" y="708.7">Chna_Chna4g00055</text></g>
<g id="L91"><text class="bl" x="749" y="713.3">0.00001</text><path class="bm" d="M749.5 714h2.5"/><text class="ln" x="753.8" y="716">Chmo_Chmo24g05548</text></g>
<g id="L92"><text class="bl" x="749" y="721">0.00001</text><path class="bm" d="M749.5 721.7h2.5"/><text class="ln" x="753.8" y="723.7">Chla_Chla8g00582</text></g>
<g id="L93"><text class="bl" x="702" y="728.6">0.00001</text><path class="bm" d="M702.5 729.3h2.5"/><text class="ln" x="706.8" y="731.3">Echmo_Chmo2g05580</text></g>
<g id="L94"><text class="bl" x="565.3" y="737.6">0.0648</text><path class="bm" d="M565.8 738.3h2.5"/><text class="ln" x="570.1" y="740.3">Lomi_Lomi5g01980</text></g>
<g id="L95"><text class="bl" x="585.3" y="745.3">0.00077</text><path class="bm" d="M585.8 746h2.5"/><text class="ln" x="590.1" y="748">Hesub_Hesub1000000003-1g02385</text></g>
<g id="L96"><text class="bl" x="582" y="753.6">0.00001</text><path class="bm" d="M582.5 754.3h2.5"/><text class="ln" x="586.8" y="756.3">Pasu_Pasu1g15886</text></g>
<g id="L97"><text class="bl" x="625.3" y="761">0.1</text><path class="bm" d="M625.8 761.7h2.5"/><text class="ln" x="630.1" y="763.7">Pin_Pin2g00211</text></g>
<g id="L98"><text class="bl" x="622" y="769.3">0.0860</text><path class="bm" d="M622.5 770h2.5"/><text class="ln" x="626.8" y="772">Sasq_Sasq00000050g02208</text></g>
<g id="L99"><text class="bl" x="625.3" y="777">0.046</text><path class="bm" d="M625.8 777.7h2.5"/><text class="ln" x="630.1" y="779.7">Ecan_Ecan5g01569</text></g>
<g id="L100"><text class="bl" x="640.3" y="783.6">0.00001</text><path class="bm" d="M640.8 784.3h2.5"/><text class="ln" x="645.1" y="786.3">Scac_Scac1000000009g02092</text></g>
<g id="L101"><text class="bl" x="645.3" y="792.6">0.0277</text><path class="bm" d="M645.8 793.3h2.5"/><text class="ln" x="650.1" y="795.3">Sosa_Sosa2g00313</text></g>
<g id="L102"><text class="bl" x="675.3" y="800.3">0.0986</text><path class="bm" d="M675.8 801h2.5"/><text class="ln" x="680.1" y="803">Buni_Buni5g01521</text></g>
<g id="L103"><text class="bl" x="669.5" y="807">0</text><path class="bm" d="M667.5 807.7h2.5"/><text class="ln" x="671.8" y="809.7">Dapi_Dapi4g01578</text></g>
<g id="L104"><text class="bl" x="669.5" y="816">0</text><path class="bm" d="M667.5 816.7h2.5"/><text class="ln" x="671.8" y="818.7">Dapi_Dapi5g01248</text></g>
<g id="L105"><text class="bl" x="673.7" y="824.3">0.0555</text><path class="bm" d="M674.2 825h2.5"/><text class="ln" x="678.5" y="827">Sira_Sira2g04803</text></g>
<g id="L106"><text class="bl" x="658.7" y="831.6">0.0548</text><path class="bm" d="M659.2 832.3h2.5"/><text class="ln" x="663.5" y="834.3">Mimi_Mimi1g08860</text></g>
<g id="L107"><text class="bl" x="652" y="840.3">0.1</text><path class="bm" d="M652.5 841h2.5"/><text class="ln" x="656.8" y="843">Taur_Taur3g00822</text></g>
<g id="L108"><text class="bl" x="660.3" y="848.6">0.0898</text><path class="bm" d="M660.8 849.3h2.5"/><text class="ln" x="665.1" y="851.3">Acor_Acor17g01533</text></g>
<g id="L109"><text class="bl" x="675.3" y="857.6">0.00777</text><path class="bm" d="M675.8 858.3h2.5"/><text class="ln" x="680.1" y="860.3">Hean_Hean6g02456</text></g>
<g id="L110"><text class="bl" x="697" y="863.3">0.00001</text><path class="bm" d="M697.5 864h2.5"/><text class="ln" x="701.8" y="866">Helu_Helu7g02880</text></g>
<g id="L111"><text class="bl" x="715.3" y="871">0.0109</text><path class="bm" d="M715.8 871.7h2.5"/><text class="ln" x="720.1" y="873.7">Helu_Helu8g01255</text></g>
<g id="L112"><text class="bl" x="715.3" y="879.6">0.00001</text><path class="bm" d="M715.8 880.3h2.5"/><text class="ln" x="720.1" y="882.3">Helu_Helu8g01325</text></g>
<g id="L113"><text class="bl" x="630.3" y="887.6">0.0886</text><path class="bm" d="M630.8 888.3h2.5"/><text class="ln" x="635.1" y="890.3">Erb_Erb6g01444</text></g>
<g id="L114"><text class="bl" x="670.3" y="894.3">0.00001</text><path class="bm" d="M670.8 895h2.5"/><text class="ln" x="675.1" y="897">Ebu_Eb1088378g00001</text></g>
<g id="L115"><text class="bl" x="695.3" y="902">0.00777</text><path class="bm" d="M695.8 902.7h2.5"/><text class="ln" x="700.1" y="904.7">Era_Era6g00862</text></g>
<g id="L116"><text class="bl" x="700.3" y="911">0.0477</text><path class="bm" d="M700.8 911.7h2.5"/><text class="ln" x="705.1" y="913.7">Eri_Eri6g00735</text></g>
<g id="L117"><text class="bl" x="683.7" y="919.3">0.0177</text><path class="bm" d="M684.2 920h2.5"/><text class="ln" x="688.5" y="922">Ebc_Ebc1415765g00003</text></g>
<g id="L118"><text class="bl" x="710.3" y="926">0.00001</text><path class="bm" d="M710.8 926.7h2.5"/><text class="ln" x="715.1" y="928.7">Ebi_Eb1418843g00001</text></g>
<g id="L119"><text class="bl" x="710.3" y="935.6">0.00001</text><path class="bm" d="M710.8 936.3h2.5"/><text class="ln" x="715.1" y="938.3">Erb_Erb6g01803</text></g>
<g id="L120"><text class="bl" x="687" y="942.6">0.0226</text><path class="bm" d="M687.5 943.3h2.5"/><text class="ln" x="691.8" y="945.3">Elsi_Elsi11g00867</text></g>
<g id="L121"><text class="bl" x="650.3" y="950">0.0888</text><path class="bm" d="M650.8 950.7h2.5"/><text class="ln" x="655.1" y="952.7">Hesu_Hesu1000000007g02938</text></g>
<g id="L122"><text class="bl" x="638.7" y="957.6">0.0338</text><path class="bm" d="M639.2 958.3h2.5"/><text class="ln" x="643.5" y="960.3">Smon_Smon18g01520</text></g>
<g id="L123"><text class="bl" x="638.7" y="966">0.00177</text><path class="bm" d="M639.2 966.7h2.5"/><text class="ln" x="643.5" y="968.7">Smon_Smon8g00525</text></g>
</g>
<g id="scale-bar">
<path class="e" d="M3 971.5V975.5M3 973.5H37M37 971.5V975.5"/>
<text class="bl" x="5" y="981" style="text-anchor:start">0.05</text>
</g>
</svg>
